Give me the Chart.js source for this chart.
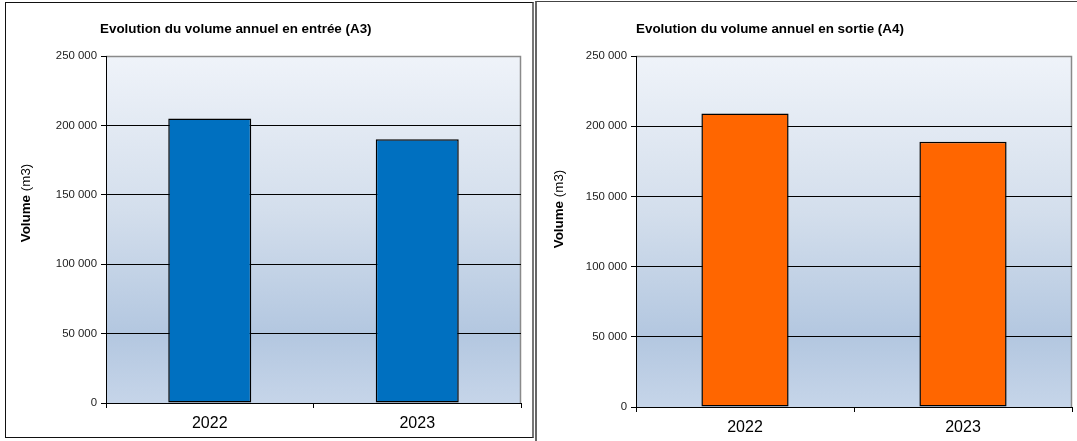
<!DOCTYPE html>
<html>
<head>
<meta charset="utf-8">
<script src="https://cdn.jsdelivr.net/npm/chart.js@4/dist/chart.umd.min.js"></script>
<style>
  body { margin: 0; background: #fff; width: 1077px; height: 441px; overflow: hidden; position: relative; }
  #boxA { position: absolute; left: 5px; top: 2px; width: 526px; height: 434px; border: 1px solid #111; border-right: 2px solid #777; }
  #boxB { position: absolute; left: 535px; top: 1px; width: 545px; height: 450px; border-left: 2px solid #666; border-top: 1px solid #444; }
  canvas { position: absolute; }
</style>
</head>
<body>
<div id="boxA"><canvas id="chartA" width="524" height="432" style="left:1px;top:1px"></canvas></div>
<div id="boxB"><canvas id="chartB" width="540" height="438" style="left:0;top:2px"></canvas></div>
<script>
const years = ["2022", "2023"];
const volEntree = [205000, 190000];
const volSortie = [209000, 189000];
const titleA = "Evolution du volume annuel en entrée (A3)";
const titleB = "Evolution du volume annuel en sortie (A4)";

Chart.defaults.font.family = "'Liberation Sans', Arial, sans-serif";

function fmt(v) {
  return String(v).replace(/\B(?=(\d{3})+(?!\d))/g, " ");
}

// gradient background of the plot area
const plotBg = {
  id: "plotBg",
  beforeDraw(chart) {
    const a = chart.chartArea, ctx = chart.ctx;
    const g = ctx.createLinearGradient(0, a.top, 0, a.bottom);
    g.addColorStop(0, "#eff3f9");
    g.addColorStop(0.45, "#d3deec");
    g.addColorStop(0.8, "#b3c7e0");
    g.addColorStop(1, "#c6d5e9");
    ctx.save();
    ctx.fillStyle = g;
    ctx.fillRect(a.left, a.top, a.right - a.left, a.bottom - a.top);
    ctx.strokeStyle = "#8a8a8a";
    ctx.lineWidth = 1.5;
    ctx.beginPath();
    ctx.moveTo(a.left, a.top + 0.5);
    ctx.lineTo(a.right - 0.5, a.top + 0.5);
    ctx.lineTo(a.right - 0.5, a.bottom);
    ctx.stroke();
    ctx.restore();
  }
};

// chart title + y axis title (bold "Volume", normal "(m3)")
const texts = {
  id: "texts",
  afterDraw(chart, args, opts) {
    const ctx = chart.ctx;
    ctx.save();
    ctx.fillStyle = "#000";
    ctx.textBaseline = "middle";
    ctx.font = "bold 13.4px 'Liberation Sans', Arial, sans-serif";
    ctx.textAlign = "left";
    ctx.fillText(opts.title, opts.tx, opts.ty);

    ctx.translate(opts.yx, opts.yy);
    ctx.rotate(-Math.PI / 2);
    const boldF = "bold 13.4px 'Liberation Sans', Arial, sans-serif";
    const normF = "13.4px 'Liberation Sans', Arial, sans-serif";
    ctx.font = boldF;
    const w1 = ctx.measureText("Volume ").width;
    ctx.font = normF;
    const w2 = ctx.measureText("(m3)").width;
    const x0 = -(w1 + w2) / 2;
    ctx.font = boldF;
    ctx.fillText("Volume ", x0, 0);
    ctx.font = normF;
    ctx.fillText("(m3)", x0 + w1, 0);
    ctx.restore();
  }
};

function makeChart(id, values, color, t, padRight, xHeight) {
  return new Chart(document.getElementById(id), {
    type: "bar",
    data: {
      labels: years,
      datasets: [{
        data: values,
        backgroundColor: color,
        borderColor: "#000",
        borderWidth: 1.5,
        borderSkipped: false,
        barPercentage: 0.4,
        categoryPercentage: 1
      }]
    },
    plugins: [plotBg, texts],
    options: {
      responsive: false,
      animation: false,
      devicePixelRatio: 1,
      layout: { padding: { left: 0, top: 52, right: padRight, bottom: 0 } },
      plugins: {
        legend: { display: false },
        tooltip: { enabled: false },
        title: { display: false },
        texts: t
      },
      scales: {
        x: {
          grid: { drawOnChartArea: false, drawTicks: true, tickLength: 5, tickColor: "#000", offset: true },
          border: { color: "#000", width: 1 },
          ticks: { color: "#000", font: { size: 16 }, padding: 6 },
          afterFit(s) { s.height = xHeight; }
        },
        y: {
          min: 0,
          max: 250000,
          grid: {
            color: (c) => c.tick && c.tick.value === 250000 ? "#8a8a8a" : "#000",
            tickColor: "#000",
            tickLength: 5
          },
          border: { color: "#000", width: 1 },
          ticks: { stepSize: 50000, color: "#222", font: { size: 11.4 }, padding: 4, callback: (v) => fmt(v) },
          afterFit(s) { s.width = 99; }
        }
      }
    }
  });
}

makeChart("chartA", volEntree, "#0070c0", { title: titleA, tx: 93, ty: 25, yx: 19, yy: 199 }, 10, 33);
makeChart("chartB", volSortie, "#ff6600", { title: titleB, tx: 99, ty: 25, yx: 22, yy: 205 }, 5, 35);
</script>
</body>
</html>
